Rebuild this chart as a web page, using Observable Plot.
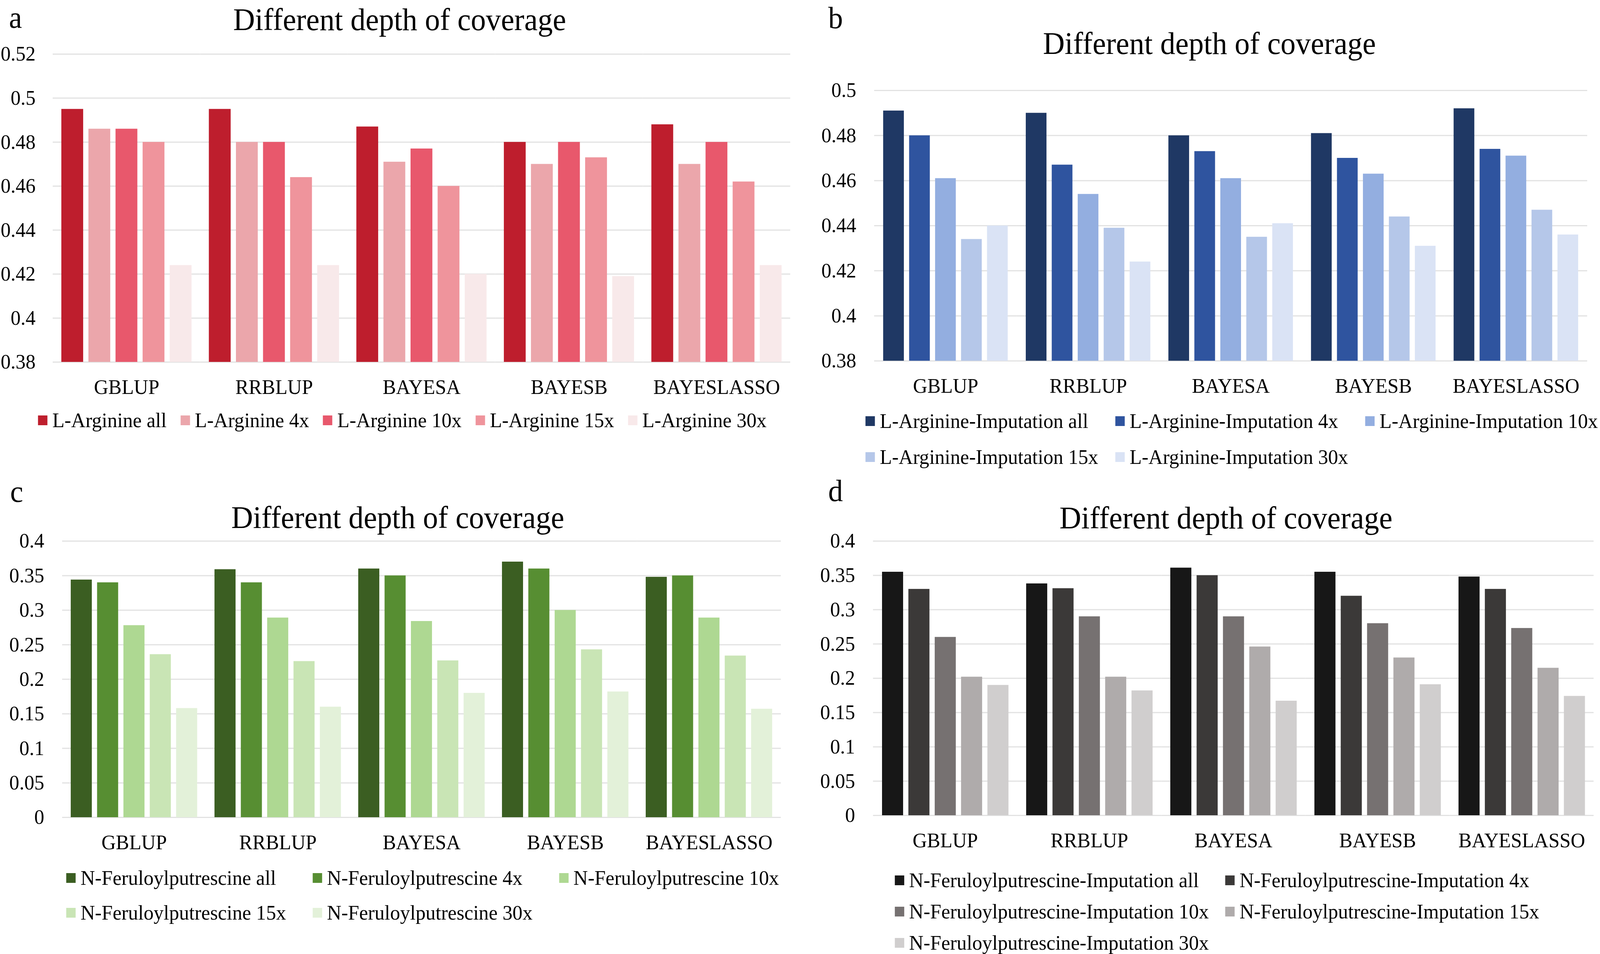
<!DOCTYPE html>
<html>
<head>
<meta charset="utf-8">
<script src="https://cdn.jsdelivr.net/npm/d3@7"></script>
<script src="https://cdn.jsdelivr.net/npm/@observablehq/plot@0.6"></script>
<style>
  html, body { margin: 0; padding: 0; background: #fff; overflow: hidden; }
  #page { position: relative; width: 4252px; height: 2441px; background: #fff; overflow: hidden; transform-origin: 0 0;
          font-family: 'Liberation Serif', 'Times New Roman', serif; color: #000; }
  .title { position: absolute; font-size: 80px; line-height: 80px; white-space: nowrap; transform: translateX(-50%); }
  .letter { position: absolute; font-size: 78px; line-height: 70px; }
  .legrow { position: absolute; height: 53px; display: flex; align-items: center; font-size: 53px; line-height: 53px; white-space: nowrap; }
  .item { display: flex; align-items: center; }
  .sw { width: 25px; height: 25px; margin-right: 13px; flex: none; }
</style>
</head>
<body>
<div id="page"></div>
<script>
// ---------- data ----------
const methods = ["GBLUP", "RRBLUP", "BAYESA", "BAYESB", "BAYESLASSO"];
const chartTitle = "Different depth of coverage";

// Panel a: L-Arginine
const seriesA = ["L-Arginine all", "L-Arginine 4x", "L-Arginine 10x", "L-Arginine 15x", "L-Arginine 30x"];
const colorsA = ["#BE1E2D", "#EBA6AB", "#E8586C", "#EF949C", "#F8E9EA"];
const aAll = [0.495, 0.495, 0.487, 0.480, 0.488];
const a4x  = [0.486, 0.480, 0.471, 0.470, 0.470];
const a10x = [0.486, 0.480, 0.477, 0.480, 0.480];
const a15x = [0.480, 0.464, 0.460, 0.473, 0.462];
const a30x = [0.424, 0.424, 0.420, 0.419, 0.424];
const yTicksA = [0.38, 0.40, 0.42, 0.44, 0.46, 0.48, 0.50, 0.52];

// Panel b: L-Arginine-Imputation
const seriesB = ["L-Arginine-Imputation all", "L-Arginine-Imputation 4x", "L-Arginine-Imputation 10x", "L-Arginine-Imputation 15x", "L-Arginine-Imputation 30x"];
const colorsB = ["#1F3864", "#2F549F", "#93AEE0", "#B5C7E9", "#DAE3F5"];
const bAll = [0.491, 0.490, 0.480, 0.481, 0.492];
const b4x  = [0.480, 0.467, 0.473, 0.470, 0.474];
const b10x = [0.461, 0.454, 0.461, 0.463, 0.471];
const b15x = [0.434, 0.439, 0.435, 0.444, 0.447];
const b30x = [0.440, 0.424, 0.441, 0.431, 0.436];
const yTicksB = [0.38, 0.40, 0.42, 0.44, 0.46, 0.48, 0.50];

// Panel c: N-Feruloylputrescine
const seriesC = ["N-Feruloylputrescine all", "N-Feruloylputrescine 4x", "N-Feruloylputrescine 10x", "N-Feruloylputrescine 15x", "N-Feruloylputrescine 30x"];
const colorsC = ["#3B5E22", "#578E32", "#AED892", "#C9E5B5", "#E3F1D9"];
const cAll = [0.344, 0.359, 0.360, 0.370, 0.348];
const c4x  = [0.340, 0.340, 0.350, 0.360, 0.350];
const c10x = [0.278, 0.289, 0.284, 0.300, 0.289];
const c15x = [0.236, 0.226, 0.227, 0.243, 0.234];
const c30x = [0.158, 0.160, 0.180, 0.182, 0.157];
const yTicksC = [0, 0.05, 0.10, 0.15, 0.20, 0.25, 0.30, 0.35, 0.40];

// Panel d: N-Feruloylputrescine-Imputation
const seriesD = ["N-Feruloylputrescine-Imputation all", "N-Feruloylputrescine-Imputation 4x", "N-Feruloylputrescine-Imputation 10x", "N-Feruloylputrescine-Imputation 15x", "N-Feruloylputrescine-Imputation 30x"];
const colorsD = ["#171717", "#3B3938", "#767171", "#AFABAB", "#D0CECE"];
const dAll = [0.355, 0.338, 0.361, 0.355, 0.348];
const d4x  = [0.330, 0.331, 0.350, 0.320, 0.330];
const d10x = [0.260, 0.290, 0.290, 0.280, 0.273];
const d15x = [0.202, 0.202, 0.246, 0.230, 0.215];
const d30x = [0.190, 0.182, 0.167, 0.191, 0.174];
const yTicksD = [0, 0.05, 0.10, 0.15, 0.20, 0.25, 0.30, 0.35, 0.40];

// ---------- helpers ----------
function toRows(series, valueArrays) {
  const rows = [];
  methods.forEach((m, i) => {
    series.forEach((s, j) => rows.push({method: m, series: s, value: valueArrays[j][i]}));
  });
  return rows;
}
const fmt = d => String(+d.toFixed(2));
const page = document.getElementById("page");

function panel(cfg) {
  const rows = toRows(cfg.series, cfg.values);
  const yMin = cfg.ticks[0];
  const yMax = cfg.ticks[cfg.ticks.length - 1];
  const svg = Plot.plot({
    width: cfg.width,
    height: cfg.height,
    marginLeft: cfg.ml,
    marginRight: cfg.mr,
    marginTop: cfg.mt,
    marginBottom: cfg.mb,
    style: {fontFamily: "'Liberation Serif', 'Times New Roman', serif", fontSize: "53px", color: "#000", background: "transparent", overflow: "visible"},
    fx: {domain: methods, padding: 0, axis: "bottom", tickSize: 0, tickPadding: 44, label: null},
    x: {domain: cfg.series, axis: null, paddingInner: 0.2, paddingOuter: 0.31},
    y: {domain: [yMin, yMax], ticks: cfg.ticks, tickFormat: fmt, tickSize: 0, tickPadding: cfg.tp, label: null},
    color: {domain: cfg.series, range: cfg.colors},
    marks: [
      Plot.ruleY(cfg.ticks, {stroke: "#E2E2E2", strokeWidth: 3}),
      Plot.barY(rows, {fx: "method", x: "series", y1: () => yMin, y2: "value", fill: "series"})
    ]
  });
  svg.style.position = "absolute";
  svg.style.left = cfg.left + "px";
  svg.style.top = cfg.top + "px";
  page.appendChild(svg);

  const t = document.createElement("div");
  t.className = "title";
  t.textContent = chartTitle;
  t.style.left = cfg.titleX + "px";
  t.style.top = (cfg.titleBase - 67) + "px";
  page.appendChild(t);

  const l = document.createElement("div");
  l.className = "letter";
  l.textContent = cfg.letter;
  l.style.left = cfg.letterX + "px";
  l.style.top = (cfg.letterBase - 61) + "px";
  page.appendChild(l);

  cfg.legendRows.forEach((idxs, r) => {
    const row = document.createElement("div");
    row.className = "legrow";
    row.style.left = cfg.legX + "px";
    row.style.top = (cfg.legY[r] - 26.5) + "px";
    idxs.forEach(k => {
      const it = document.createElement("div");
      it.className = "item";
      if (cfg.colW) { it.style.width = cfg.colW + "px"; }
      else { it.style.marginRight = "37px"; }
      const sw = document.createElement("span");
      sw.className = "sw";
      sw.style.background = cfg.colors[k];
      const tx = document.createElement("span");
      tx.textContent = cfg.series[k];
      it.appendChild(sw);
      it.appendChild(tx);
      row.appendChild(it);
    });
    page.appendChild(row);
  });
}

panel({
  letter: "a", letterX: 24, letterBase: 71,
  titleX: 1062, titleBase: 77,
  series: seriesA, colors: colorsA, values: [aAll, a4x, a10x, a15x, a30x], ticks: yTicksA,
  left: 0, top: 100, width: 2126, height: 936, ml: 138, mr: 24, mt: 38, mb: 110, tp: 46,
  legX: 101, legY: [1075], legendRows: [[0, 1, 2, 3, 4]], colW: null
});
panel({
  letter: "b", letterX: 2201, letterBase: 72,
  titleX: 3214, titleBase: 138,
  series: seriesB, colors: colorsB, values: [bAll, b4x, b10x, b15x, b30x], ticks: yTicksB,
  left: 2126, top: 180, width: 2126, height: 853, ml: 197, mr: 34, mt: 51, mb: 110, tp: 48,
  legX: 2300, legY: [1077, 1169], legendRows: [[0, 1, 2], [3, 4]], colW: 664
});
panel({
  letter: "c", letterX: 27, letterBase: 1284,
  titleX: 1057, titleBase: 1351,
  series: seriesC, colors: colorsC, values: [cAll, c4x, c10x, c15x, c30x], ticks: yTicksC,
  left: 0, top: 1340, width: 2126, height: 861, ml: 163, mr: 49, mt: 44, mb: 110, tp: 48,
  legX: 176, legY: [2246, 2335], legendRows: [[0, 1, 2], [3, 4]], colW: 655
});
panel({
  letter: "d", letterX: 2201, letterBase: 1282,
  titleX: 3258, titleBase: 1352,
  series: seriesD, colors: colorsD, values: [dAll, d4x, d10x, d15x, d30x], ticks: yTicksD,
  left: 2126, top: 1340, width: 2126, height: 856, ml: 194, mr: 17, mt: 44, mb: 110, tp: 48,
  legX: 2378, legY: [2252, 2332, 2412], legendRows: [[0, 1], [2, 3], [4]], colW: 878
});

// fit the fixed-size 4252x2441 figure into the actual viewport
const vw = window.innerWidth || 4252, vh = window.innerHeight || 2441;
page.style.transform = `scale(${vw / 4252}, ${vh / 2441})`;
</script>
</body>
</html>
